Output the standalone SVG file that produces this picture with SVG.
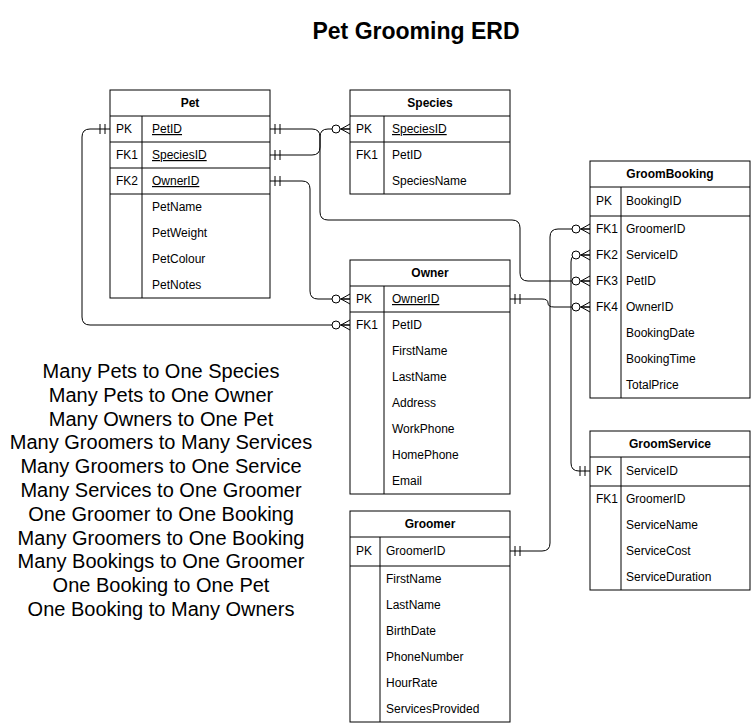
<svg xmlns="http://www.w3.org/2000/svg" width="751" height="726" viewBox="0 0 751 726">
<style>
text{font-family:"Liberation Sans",Arial,Helvetica,sans-serif;fill:#000}
.t{font-size:12px}
.h{font-size:12px;font-weight:bold;text-anchor:middle}
.u{text-decoration:underline}
.box{fill:#fff;stroke:#000;stroke-width:1}
.ln{stroke:#000;stroke-width:1;fill:none}
.c{fill:none;stroke:#000;stroke-width:1;marker-start:url(#one);marker-end:url(#many)}
.note{font-size:20px;text-anchor:middle}
</style>
<defs>
<marker id="one" markerWidth="14" markerHeight="14" refX="12" refY="7" orient="auto-start-reverse" markerUnits="userSpaceOnUse" viewBox="0 0 14 14">
<path d="M2,2 V12 M7,2 V12" stroke="#000" stroke-width="1" fill="none"/>
</marker>
<marker id="many" markerWidth="22" markerHeight="14" refX="20" refY="7" orient="auto-start-reverse" markerUnits="userSpaceOnUse" viewBox="0 0 22 14">
<path d="M11,7 L20,2 M11,7 L20,12 M11,7 L20,7" stroke="#000" stroke-width="1" fill="none"/>
<circle cx="6" cy="7" r="4" fill="#fff" stroke="#000" stroke-width="1"/>
</marker>
</defs>
<rect width="751" height="726" fill="#fff"/>
<text x="416" y="39" style="font-size:23px;font-weight:bold;text-anchor:middle">Pet Grooming ERD</text>

<g id="connectors">
<path class="c" d="M270,129 H312 Q320,129 320,137 V212 Q320,220 328,220 H512 Q520,220 520,228 V273 Q520,281 528,281 H590"/>
<path class="c" d="M270,155 H312 Q320,155 320,147 V137 Q320,129 328,129 H350"/>
<path class="c" d="M270,181 H302 Q310,181 310,189 V291 Q310,299 318,299 H350"/>
<path class="c" d="M110,129 H90 Q82,129 82,137 V317 Q82,325 90,325 H350"/>
<path class="c" d="M510,299 H542 Q548,299 548,303 Q548,307 554,307 H590"/>
<path class="c" d="M510,551 H542 Q550,551 550,543 V237 Q550,229 558,229 H590"/>
<path class="c" d="M590,471 H579 Q571,471 571,463 V262 Q571,255 577,255 H590"/>
</g>

<g id="pet">
<rect class="box" x="110" y="90" width="160" height="208"/>
<path class="ln" d="M110,116 H270 M110,142 H270 M110,168 H270 M110,194 H270 M142,116 V298"/>
<text class="h" x="190" y="107">Pet</text>
<text class="t" x="116" y="133">PK</text><text class="t u" x="152" y="133">PetID</text>
<text class="t" x="116" y="159">FK1</text><text class="t u" x="152" y="159">SpeciesID</text>
<text class="t" x="116" y="185">FK2</text><text class="t u" x="152" y="185">OwnerID</text>
<text class="t" x="152" y="211">PetName</text>
<text class="t" x="152" y="237">PetWeight</text>
<text class="t" x="152" y="263">PetColour</text>
<text class="t" x="152" y="289">PetNotes</text>
</g>

<g id="species">
<rect class="box" x="350" y="90" width="160" height="104"/>
<path class="ln" d="M350,116 H510 M350,142 H510 M384,116 V194"/>
<text class="h" x="430" y="107">Species</text>
<text class="t" x="356" y="133">PK</text><text class="t u" x="392" y="133">SpeciesID</text>
<text class="t" x="356" y="159">FK1</text><text class="t" x="392" y="159">PetID</text>
<text class="t" x="392" y="185">SpeciesName</text>
</g>

<g id="owner">
<rect class="box" x="350" y="260" width="160" height="234"/>
<path class="ln" d="M350,286 H510 M350,312 H510 M384,286 V494"/>
<text class="h" x="430" y="277">Owner</text>
<text class="t" x="356" y="303">PK</text><text class="t u" x="392" y="303">OwnerID</text>
<text class="t" x="356" y="329">FK1</text><text class="t" x="392" y="329">PetID</text>
<text class="t" x="392" y="355">FirstName</text>
<text class="t" x="392" y="381">LastName</text>
<text class="t" x="392" y="407">Address</text>
<text class="t" x="392" y="433">WorkPhone</text>
<text class="t" x="392" y="459">HomePhone</text>
<text class="t" x="392" y="485">Email</text>
</g>

<g id="groomer">
<rect class="box" x="350" y="511" width="160" height="211"/>
<path class="ln" d="M350,537 H510 M350,566 H510 M380,537 V722"/>
<text class="h" x="430" y="528">Groomer</text>
<text class="t" x="356" y="555">PK</text><text class="t" x="386" y="555">GroomerID</text>
<text class="t" x="386" y="583">FirstName</text>
<text class="t" x="386" y="609">LastName</text>
<text class="t" x="386" y="635">BirthDate</text>
<text class="t" x="386" y="661">PhoneNumber</text>
<text class="t" x="386" y="687">HourRate</text>
<text class="t" x="386" y="713">ServicesProvided</text>
</g>

<g id="groombooking">
<rect class="box" x="590" y="161" width="160" height="237"/>
<path class="ln" d="M590,187 H750 M590,216 H750 M621,187 V398"/>
<text class="h" x="670" y="178">GroomBooking</text>
<text class="t" x="596" y="205">PK</text><text class="t" x="626" y="205">BookingID</text>
<text class="t" x="596" y="233">FK1</text><text class="t" x="626" y="233">GroomerID</text>
<text class="t" x="596" y="259">FK2</text><text class="t" x="626" y="259">ServiceID</text>
<text class="t" x="596" y="285">FK3</text><text class="t" x="626" y="285">PetID</text>
<text class="t" x="596" y="311">FK4</text><text class="t" x="626" y="311">OwnerID</text>
<text class="t" x="626" y="337">BookingDate</text>
<text class="t" x="626" y="363">BookingTime</text>
<text class="t" x="626" y="389">TotalPrice</text>
</g>

<g id="groomservice">
<rect class="box" x="590" y="431" width="160" height="159"/>
<path class="ln" d="M590,457 H750 M590,486 H750 M621,457 V590"/>
<text class="h" x="670" y="448">GroomService</text>
<text class="t" x="596" y="475">PK</text><text class="t" x="626" y="475">ServiceID</text>
<text class="t" x="596" y="503">FK1</text><text class="t" x="626" y="503">GroomerID</text>
<text class="t" x="626" y="529">ServiceName</text>
<text class="t" x="626" y="555">ServiceCost</text>
<text class="t" x="626" y="581">ServiceDuration</text>
</g>

<g id="notes">
<text class="note" x="161" y="378">Many Pets to One Species</text>
<text class="note" x="161" y="402">Many Pets to One Owner</text>
<text class="note" x="161" y="426">Many Owners to One Pet</text>
<text class="note" x="161" y="449">Many Groomers to Many Services</text>
<text class="note" x="161" y="473">Many Groomers to One Service</text>
<text class="note" x="161" y="497">Many Services to One Groomer</text>
<text class="note" x="161" y="521">One Groomer to One Booking</text>
<text class="note" x="161" y="545">Many Groomers to One Booking</text>
<text class="note" x="161" y="568">Many Bookings to One Groomer</text>
<text class="note" x="161" y="592">One Booking to One Pet</text>
<text class="note" x="161" y="616">One Booking to Many Owners</text>
</g>
</svg>
